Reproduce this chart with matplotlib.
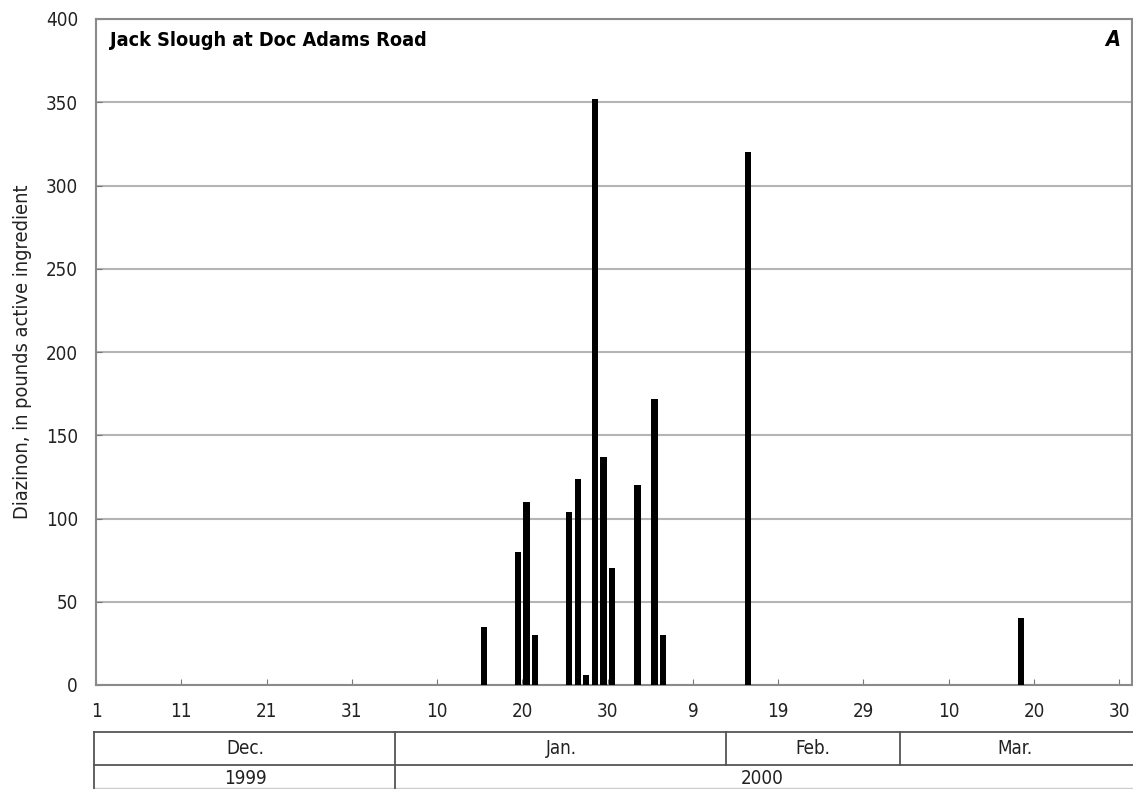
import numpy as np
import matplotlib.pyplot as plt

# daily diazinon loads, Jack Slough at Doc Adams Road
dates = ["2000-01-15", "2000-01-19", "2000-01-20", "2000-01-21", "2000-01-25",
         "2000-01-26", "2000-01-27", "2000-01-28", "2000-01-29", "2000-01-30",
         "2000-02-02", "2000-02-04", "2000-02-05", "2000-02-15", "2000-03-18"]
loads = [35, 80, 110, 30, 104, 124, 6, 352, 137, 70, 120, 172, 30, 320, 40]

tick_labels = ["1", "11", "21", "31", "10", "20", "30", "9", "19", "29", "10", "20", "30"]
months = ["Dec.", "Jan.", "Feb.", "Mar."]
years = ["1999", "2000"]

plt.rcParams['font.family'] = ['DejaVu Sans']
plt.rcParams['font.stretch'] = 'condensed'

start = np.datetime64("1999-12-01")
days = (np.array(dates, dtype="datetime64[D]") - start).astype(int)

fig = plt.figure(figsize=(11.33, 7.89), dpi=100)
ax = fig.add_axes([96 / 1133, 1 - 685 / 789, 1036 / 1133, 666 / 789])

ax.bar(days + 0.5, loads, width=0.75, color="black", zorder=3)

ax.set_xlim(0, 121.5)
ax.set_ylim(0, 400)
ax.set_yticks(np.arange(0, 401, 50))
ax.set_xticks(np.arange(0, 121, 10))
ax.set_xticklabels(tick_labels)
ax.grid(axis="y", color="#b4b4b4", lw=1.5, zorder=0)
ax.tick_params(axis="both", direction="in", length=4, color="#777777",
               labelsize=13.5, colors="#222222")
ax.tick_params(axis="x", pad=12)
ax.tick_params(axis="y", pad=13)
for s in ax.spines.values():
    s.set_color("#8a8a8a")
    s.set_linewidth(1.5)

ax.set_ylabel("Diazinon, in pounds active ingredient", fontsize=14.3, color="#222222", labelpad=10)

def fx(px):
    return (px - 96) / 1036

def fy(py):
    return (685 - py) / 666

ax.text(fx(110), fy(40), "Jack Slough at Doc Adams Road", transform=ax.transAxes,
        fontsize=14.2, fontweight="bold", va="center", ha="left")
ax.text(fx(1113), fy(40), "A", transform=ax.transAxes, fontsize=15.5,
        fontweight="bold", style="italic", va="center", ha="center")

# month / year table under the axis
lkw = dict(transform=ax.transAxes, clip_on=False, color="#555555", lw=1.3)
ax.plot([fx(94), fx(1133)], [fy(732), fy(732)], **lkw)
ax.plot([fx(94), fx(1133)], [fy(765), fy(765)], **lkw)
ax.plot([fx(94), fx(1133)], [fy(788), fy(788)], color="#cccccc", lw=1,
        transform=ax.transAxes, clip_on=False)
ax.plot([fx(94), fx(94)], [fy(732), fy(789)], **lkw)
for px in [395, 726, 900]:
    ax.plot([fx(px), fx(px)], [fy(732), fy(765)], **lkw)
ax.plot([fx(395), fx(395)], [fy(765), fy(789)], **lkw)

for name, px in zip(months, [245, 561, 813, 1015]):
    ax.text(fx(px), fy(749), name, transform=ax.transAxes, ha="center",
            va="center", fontsize=13.5, color="#222222")
for name, px in zip(years, [245, 762]):
    ax.text(fx(px), fy(778), name, transform=ax.transAxes, ha="center",
            va="center", fontsize=13.5, color="#222222")

fig.savefig("out.png", dpi=100)
